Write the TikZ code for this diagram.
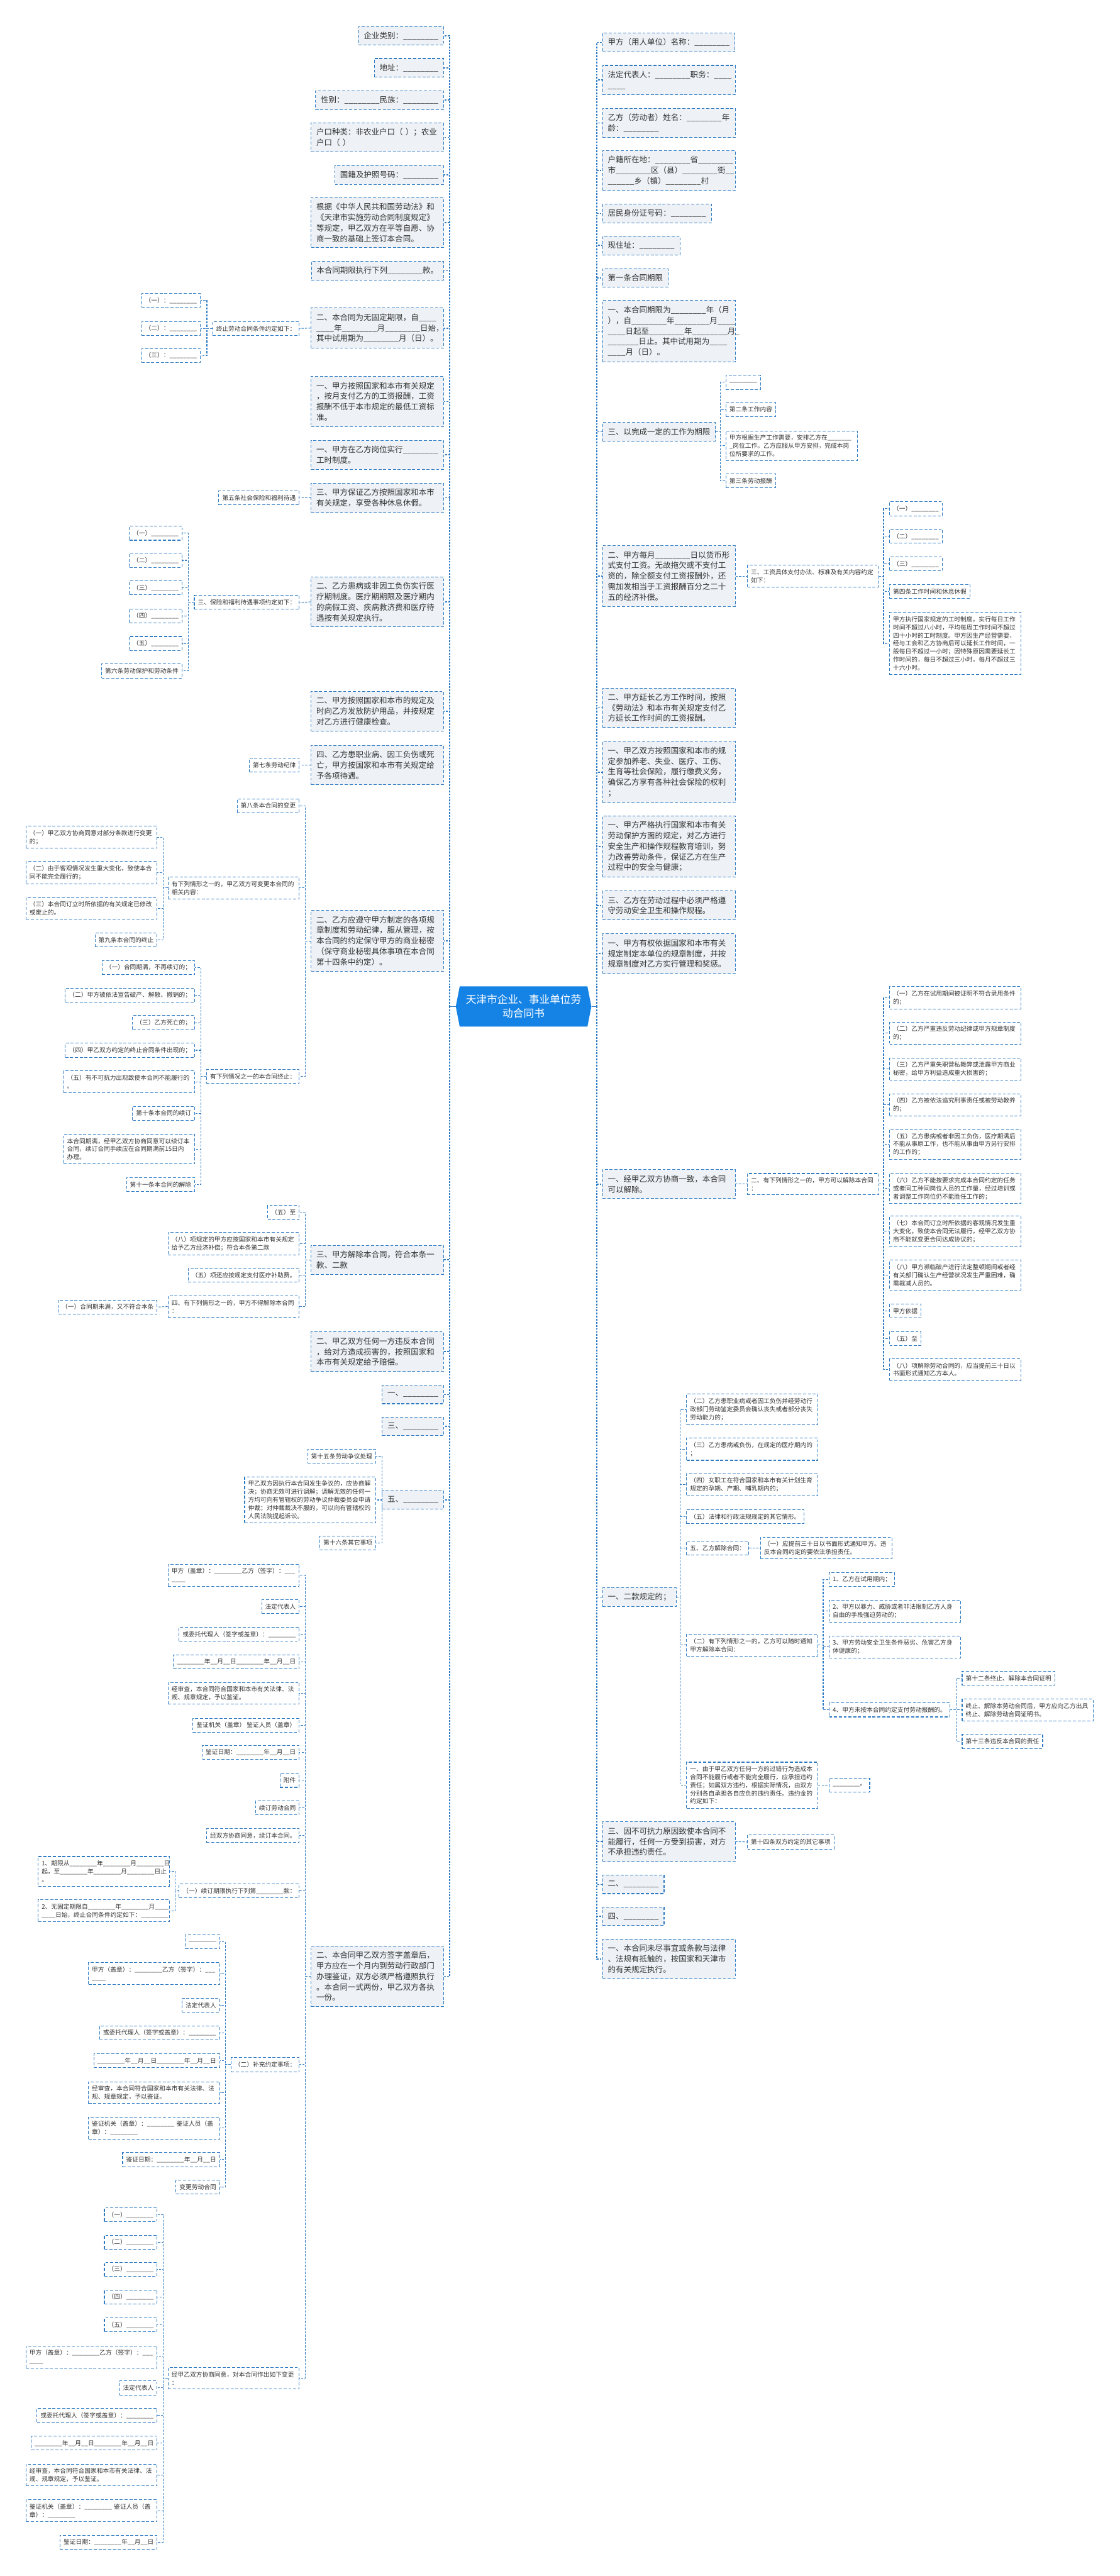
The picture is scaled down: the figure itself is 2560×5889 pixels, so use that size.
\documentclass[tikz,border=0pt]{standalone}
\usepackage{fontspec}
\setmainfont{Noto Sans CJK SC}
\definecolor{lineblue}{HTML}{2E7BC4}
\definecolor{boxfill}{HTML}{EEF2F6}
\definecolor{rootblue}{HTML}{1583E6}
\definecolor{textgray}{HTML}{333333}

\begin{document}
\catcode`\_=12
\begin{tikzpicture}[x=1pt,y=-1pt,
box/.style={draw=lineblue,line width=1.5pt,dash pattern=on 7pt off 4pt,text=textgray,align=left},
mainbox/.style={box,fill=boxfill,font=\fontsize{18pt}{24.2pt}\selectfont,inner xsep=12pt,inner ysep=12.5pt,minimum height=42pt},
subbox/.style={box,fill=white,font=\fontsize{14pt}{18.5pt}\selectfont,inner xsep=8pt,inner ysep=9pt,minimum height=32pt},
lmain/.style={mainbox,anchor=east},
rmain/.style={mainbox,anchor=west},
lmainw/.style={lmain,text width=279pt},
rmainw/.style={rmain,text width=279pt},
lsub/.style={subbox,anchor=east},
rsub/.style={subbox,anchor=west},
lsubw/.style={lsub,text width=284pt},
rsubw/.style={rsub,text width=284pt},
conn/.style={draw=lineblue,line width=1.5pt,dash pattern=on 5pt off 3pt},
spine/.style={draw=lineblue,line width=2.5pt,dash pattern=on 4pt off 3pt},
rootlink/.style={draw=lineblue,line width=2.5pt}
]
\fill[white] (0,0) rectangle (2560,5889);
\useasboundingbox (0,0) rectangle (2560,5889);

% root
\fill[rootblue] (1051,2255) -- (1343,2255) -- (1352,2301) -- (1343,2347) -- (1051,2347) -- (1042,2301) -- cycle;
\node[text=white,font=\fontsize{24pt}{32pt}\selectfont,align=center,minimum width=310pt,minimum height=92pt,inner sep=0pt] (root) at (1197,2301) {天津市企业、事业单位劳\\动合同书};
\coordinate (lsp) at (1028,2301);
\coordinate (rsp) at (1364,2301);
\draw[rootlink] (root.west) -- (lsp);
\draw[rootlink] (root.east) -- (rsp);

% left main nodes
\node[lmain] (l1) at (1015,82) {企业类别：________};
\node[lmain] (l2) at (1015,155) {地址：________};
\node[lmain] (l3) at (1015,229) {性别：________民族：________};
\node[lmainw] (l4) at (1015,314) {户口种类：非农业户口（ ）；农业\\户口（ ）};
\node[lmain] (l5) at (1015,400) {国籍及护照号码：________};
\node[lmainw] (l6) at (1015,509) {根据《中华人民共和国劳动法》和\\《天津市实施劳动合同制度规定》\\等规定，甲乙双方在平等自愿、协\\商一致的基础上签订本合同。};
\node[lmain] (l7) at (1015,619) {本合同期限执行下列________款。};
\node[lmainw] (l8) at (1015,750) {二、本合同为无固定期限，自____\\____年________月________日始，\\其中试用期为________月（日）。};
\node[lmainw] (l9) at (1015,918) {一、甲方按照国家和本市有关规定\\，按月支付乙方的工资报酬，工资\\报酬不低于本市规定的最低工资标\\准。};
\node[lmainw] (l10) at (1015,1040) {一、甲方在乙方岗位实行________\\工时制度。};
\node[lmainw] (l11) at (1015,1138) {三、甲方保证乙方按照国家和本市\\有关规定，享受各种休息休假。};
\node[lmainw] (l12) at (1015,1376) {二、乙方患病或非因工负伤实行医\\疗期制度。医疗期期限及医疗期内\\的病假工资、疾病救济费和医疗待\\遇按有关规定执行。};
\node[lmainw] (l13) at (1015,1626) {二、甲方按照国家和本市的规定及\\时向乙方发放防护用品，并按规定\\对乙方进行健康检查。};
\node[lmainw] (l14) at (1015,1749) {四、乙方患职业病、因工负伤或死\\亡，甲方按国家和本市有关规定给\\予各项待遇。};
\node[lmainw] (l15) at (1015,2151) {二、乙方应遵守甲方制定的各项规\\章制度和劳动纪律，服从管理，按\\本合同的约定保守甲方的商业秘密\\（保守商业秘密具体事项在本合同\\第十四条中约定）。};
\node[lmainw] (l16) at (1015,2880) {三、甲方解除本合同，符合本条一\\款、二款};
\node[lmainw] (l17) at (1015,3090) {二、甲乙双方任何一方违反本合同\\，给对方造成损害的，按照国家和\\本市有关规定给予赔偿。};
\node[lmain] (l18) at (1015,3188) {一、________};
\node[lmain] (l19) at (1015,3261) {三、________};
\node[lmain] (l20) at (1015,3429) {五、________};
\node[lmainw] (l21) at (1015,4518) {二、本合同甲乙双方签字盖章后，\\甲方应在一个月内到劳动行政部门\\办理鉴证，双方必须严格遵照执行\\。本合同一式两份，甲乙双方各执\\一份。};

\draw[spine] (lsp) |- (l1.east);
\draw[spine] (lsp) |- (l2.east);
\draw[spine] (lsp) |- (l3.east);
\draw[spine] (lsp) |- (l4.east);
\draw[spine] (lsp) |- (l5.east);
\draw[spine] (lsp) |- (l6.east);
\draw[spine] (lsp) |- (l7.east);
\draw[spine] (lsp) |- (l8.east);
\draw[spine] (lsp) |- (l9.east);
\draw[spine] (lsp) |- (l10.east);
\draw[spine] (lsp) |- (l11.east);
\draw[spine] (lsp) |- (l12.east);
\draw[spine] (lsp) |- (l13.east);
\draw[spine] (lsp) |- (l14.east);
\draw[spine] (lsp) |- (l15.east);
\draw[spine] (lsp) |- (l16.east);
\draw[spine] (lsp) |- (l17.east);
\draw[spine] (lsp) |- (l18.east);
\draw[spine] (lsp) |- (l19.east);
\draw[spine] (lsp) |- (l20.east);
\draw[spine] (lsp) |- (l21.east);

% left branches
\node[lsub] (l8a) at (685,751) {终止劳动合同条件约定如下：};
\node[lsub] (l8a1) at (459,687) {（一）：________};
\node[lsub] (l8a2) at (459,751) {（二）：________};
\node[lsub] (l8a3) at (459,813) {（三）：________};
\coordinate (e8) at (473,751);
\draw[conn] (l8.west) -- (l8a.east);
\draw[conn] (l8a.west) -- (l8a.west -| e8) |- (l8a1.east);
\draw[conn] (l8a.west) -- (l8a.west -| e8) |- (l8a2.east);
\draw[conn] (l8a.west) -- (l8a.west -| e8) |- (l8a3.east);

\node[lsub] (l11a) at (685,1138) {第五条社会保险和福利待遇};
\draw[conn] (l11.west) -- (l11a.east);

\node[lsub] (l12a) at (685,1377) {三、保险和福利待遇事项约定如下：};
\node[lsub] (l12a1) at (417,1219) {（一）________};
\node[lsub] (l12a2) at (417,1281) {（二）________};
\node[lsub] (l12a3) at (417,1344) {（三）________};
\node[lsub] (l12a4) at (417,1408) {（四）________};
\node[lsub] (l12a5) at (417,1471) {（五）________};
\node[lsub] (l12a6) at (417,1534) {第六条劳动保护和劳动条件};
\coordinate (e12) at (430,1377);
\draw[conn] (l12.west) -- (l12a.east);
\draw[conn] (l12a.west) -- (l12a.west -| e12) |- (l12a1.east);
\draw[conn] (l12a.west) -- (l12a.west -| e12) |- (l12a2.east);
\draw[conn] (l12a.west) -- (l12a.west -| e12) |- (l12a3.east);
\draw[conn] (l12a.west) -- (l12a.west -| e12) |- (l12a4.east);
\draw[conn] (l12a.west) -- (l12a.west -| e12) |- (l12a5.east);
\draw[conn] (l12a.west) -- (l12a.west -| e12) |- (l12a6.east);

\node[lsub] (l14a) at (685,1749) {第七条劳动纪律};
\draw[conn] (l14.west) -- (l14a.east);

\node[lsub] (l15a) at (685,1842) {第八条本合同的变更};
\node[lsubw] (l15b) at (685,2030) {有下列情形之一的，甲乙双方可变更本合同的\\相关内容：};
\node[lsub] (l15c) at (685,2461) {有下列情况之一的本合同终止：};
\coordinate (e15) at (698,2151);
\draw[conn] (l15.west) -- (l15.west -| e15) |- (l15a.east);
\draw[conn] (l15.west) -- (l15.west -| e15) |- (l15b.east);
\draw[conn] (l15.west) -- (l15.west -| e15) |- (l15c.east);

\node[lsubw] (l15b1) at (360,1914) {（一）甲乙双方协商同意对部分条款进行变更\\的；};
\node[lsubw] (l15b2) at (360,1995) {（二）由于客观情况发生重大变化，致使本合\\同不能完全履行的；};
\node[lsubw] (l15b3) at (360,2077) {（三）本合同订立时所依据的有关规定已修改\\或废止的。};
\node[lsub] (l15b4) at (360,2149) {第九条本合同的终止};
\coordinate (e15b) at (373,2030);
\draw[conn] (l15b.west) -- (l15b.west -| e15b) |- (l15b1.east);
\draw[conn] (l15b.west) -- (l15b.west -| e15b) |- (l15b2.east);
\draw[conn] (l15b.west) -- (l15b.west -| e15b) |- (l15b3.east);
\draw[conn] (l15b.west) -- (l15b.west -| e15b) |- (l15b4.east);

\node[lsub] (l15c1) at (446,2212) {（一）合同期满，不再续订的；};
\node[lsub] (l15c2) at (446,2275) {（二）甲方被依法宣告破产、解散、撤销的；};
\node[lsub] (l15c3) at (446,2338) {（三）乙方死亡的；};
\node[lsub] (l15c4) at (446,2401) {（四）甲乙双方约定的终止合同条件出现的；};
\node[lsubw] (l15c5) at (446,2473) {（五）有不可抗力出现致使本合同不能履行的\\。};
\node[lsub] (l15c6) at (446,2545) {第十条本合同的续订};
\node[lsubw] (l15c7) at (446,2627) {本合同期满，经甲乙双方协商同意可以续订本\\合同，续订合同手续应在合同期满前15日内\\办理。};
\node[lsub] (l15c8) at (446,2708) {第十一条本合同的解除};
\coordinate (e15c) at (459,2461);
\draw[conn] (l15c.west) -- (l15c.west -| e15c) |- (l15c1.east);
\draw[conn] (l15c.west) -- (l15c.west -| e15c) |- (l15c2.east);
\draw[conn] (l15c.west) -- (l15c.west -| e15c) |- (l15c3.east);
\draw[conn] (l15c.west) -- (l15c.west -| e15c) |- (l15c4.east);
\draw[conn] (l15c.west) -- (l15c.west -| e15c) |- (l15c5.east);
\draw[conn] (l15c.west) -- (l15c.west -| e15c) |- (l15c6.east);
\draw[conn] (l15c.west) -- (l15c.west -| e15c) |- (l15c7.east);
\draw[conn] (l15c.west) -- (l15c.west -| e15c) |- (l15c8.east);

\node[lsub] (l16a) at (685,2772) {（五）至};
\node[lsubw] (l16b) at (685,2843) {（八）项规定的甲方应按国家和本市有关规定\\给予乙方经济补偿；符合本条第二款};
\node[lsub] (l16c) at (685,2915) {（五）项还应按规定支付医疗补助费。};
\node[lsubw] (l16d) at (685,2987) {四、有下列情形之一的，甲方不得解除本合同\\：};
\node[lsub] (l16d1) at (360,2988) {（一）合同期未满，又不符合本条};
\coordinate (e16) at (698,2880);
\draw[conn] (l16.west) -- (l16.west -| e16) |- (l16a.east);
\draw[conn] (l16.west) -- (l16.west -| e16) |- (l16b.east);
\draw[conn] (l16.west) -- (l16.west -| e16) |- (l16c.east);
\draw[conn] (l16.west) -- (l16.west -| e16) |- (l16d.east);
\draw[conn] (l16d.west) -- (l16d1.east);

\node[lsub] (l20a) at (860,3329) {第十五条劳动争议处理};
\node[lsubw] (l20b) at (860,3429) {甲乙双方因执行本合同发生争议的，应协商解\\决；协商无效可进行调解；调解无效的任何一\\方均可向有管辖权的劳动争议仲裁委员会申请\\仲裁；对仲裁裁决不服的，可以向有管辖权的\\人民法院提起诉讼。};
\node[lsub] (l20c) at (860,3527) {第十六条其它事项};
\coordinate (e20) at (874,3429);
\draw[conn] (l20.west) -- (l20.west -| e20) |- (l20a.east);
\draw[conn] (l20.west) -- (l20.west -| e20) |- (l20b.east);
\draw[conn] (l20.west) -- (l20.west -| e20) |- (l20c.east);

% signatures and annexes under l21
\node[lsubw] (l21a) at (685,3601) {甲方（盖章）：________乙方（签字）：___\\____};
\node[lsub] (l21b) at (685,3673) {法定代表人};
\node[lsub] (l21c) at (685,3736) {或委托代理人（签字或盖章）：________};
\node[lsub] (l21d) at (685,3799) {________年__月__日________年__月__日};
\node[lsubw] (l21e) at (685,3871) {经审查，本合同符合国家和本市有关法律、法\\规、规章规定，予以鉴证。};
\node[lsub] (l21f) at (685,3944) {鉴证机关（盖章） 鉴证人员（盖章）};
\node[lsub] (l21g) at (685,4006) {鉴证日期：________年__月__日};
\node[lsub] (l21h) at (685,4070) {附件};
\node[lsub] (l21i) at (685,4133) {续订劳动合同};
\node[lsub] (l21j) at (685,4196) {经双方协商同意，续订本合同。};
\node[lsub] (l21k) at (685,4323) {（一）续订期限执行下列第________款：};
\node[lsub] (l21l) at (685,4720) {（二）补充约定事项：};
\node[lsubw] (l21m) at (685,5437) {经甲乙双方协商同意，对本合同作出如下变更\\：};
\coordinate (e21) at (698,4518);
\draw[conn] (l21.west) -- (l21.west -| e21) |- (l21a.east);
\draw[conn] (l21.west) -- (l21.west -| e21) |- (l21b.east);
\draw[conn] (l21.west) -- (l21.west -| e21) |- (l21c.east);
\draw[conn] (l21.west) -- (l21.west -| e21) |- (l21d.east);
\draw[conn] (l21.west) -- (l21.west -| e21) |- (l21e.east);
\draw[conn] (l21.west) -- (l21.west -| e21) |- (l21f.east);
\draw[conn] (l21.west) -- (l21.west -| e21) |- (l21g.east);
\draw[conn] (l21.west) -- (l21.west -| e21) |- (l21h.east);
\draw[conn] (l21.west) -- (l21.west -| e21) |- (l21i.east);
\draw[conn] (l21.west) -- (l21.west -| e21) |- (l21j.east);
\draw[conn] (l21.west) -- (l21.west -| e21) |- (l21k.east);
\draw[conn] (l21.west) -- (l21.west -| e21) |- (l21l.east);
\draw[conn] (l21.west) -- (l21.west -| e21) |- (l21m.east);

\node[lsubw] (l21k1) at (388,4278) {1、期限从________年________月________日\\起，至________年________月________日止\\。};
\node[lsubw] (l21k2) at (388,4368) {2、无固定期限自________年________月____\\____日始，终止合同条件约定如下：________};
\coordinate (e21k) at (401,4323);
\draw[conn] (l21k.west) -- (l21k.west -| e21k) |- (l21k1.east);
\draw[conn] (l21k.west) -- (l21k.west -| e21k) |- (l21k2.east);

\node[lsub] (l21l1) at (503,4439) {________};
\node[lsubw] (l21l2) at (503,4512) {甲方（盖章）：________乙方（签字）：___\\____};
\node[lsub] (l21l3) at (503,4584) {法定代表人};
\node[lsub] (l21l4) at (503,4647) {或委托代理人（签字或盖章）：________};
\node[lsub] (l21l5) at (503,4711) {________年__月__日________年__月__日};
\node[lsubw] (l21l6) at (503,4784) {经审查，本合同符合国家和本市有关法律、法\\规、规章规定，予以鉴证。};
\node[lsubw] (l21l7) at (503,4865) {鉴证机关（盖章）：________ 鉴证人员（盖\\章）：________};
\node[lsub] (l21l8) at (503,4937) {鉴证日期：________年__月__日};
\node[lsub] (l21l9) at (503,5000) {变更劳动合同};
\coordinate (e21l) at (515,4720);
\draw[conn] (l21l.west) -- (l21l.west -| e21l) |- (l21l1.east);
\draw[conn] (l21l.west) -- (l21l.west -| e21l) |- (l21l2.east);
\draw[conn] (l21l.west) -- (l21l.west -| e21l) |- (l21l3.east);
\draw[conn] (l21l.west) -- (l21l.west -| e21l) |- (l21l4.east);
\draw[conn] (l21l.west) -- (l21l.west -| e21l) |- (l21l5.east);
\draw[conn] (l21l.west) -- (l21l.west -| e21l) |- (l21l6.east);
\draw[conn] (l21l.west) -- (l21l.west -| e21l) |- (l21l7.east);
\draw[conn] (l21l.west) -- (l21l.west -| e21l) |- (l21l8.east);
\draw[conn] (l21l.west) -- (l21l.west -| e21l) |- (l21l9.east);

\node[lsub] (l21m1) at (360,5063) {（一）________};
\node[lsub] (l21m2) at (360,5126) {（二）________};
\node[lsub] (l21m3) at (360,5188) {（三）________};
\node[lsub] (l21m4) at (360,5251) {（四）________};
\node[lsub] (l21m5) at (360,5315) {（五）________};
\node[lsubw] (l21m6) at (360,5388) {甲方（盖章）：________乙方（签字）：___\\____};
\node[lsub] (l21m7) at (360,5459) {法定代表人};
\node[lsub] (l21m8) at (360,5522) {或委托代理人（签字或盖章）：________};
\node[lsub] (l21m9) at (360,5585) {________年__月__日________年__月__日};
\node[lsubw] (l21m10) at (360,5658) {经审查，本合同符合国家和本市有关法律、法\\规、规章规定，予以鉴证。};
\node[lsubw] (l21m11) at (360,5740) {鉴证机关（盖章）：________ 鉴证人员（盖\\章）：________};
\node[lsub] (l21m12) at (360,5812) {鉴证日期：________年__月__日};
\coordinate (e21m) at (373,5437);
\draw[conn] (l21m.west) -- (l21m.west -| e21m) |- (l21m1.east);
\draw[conn] (l21m.west) -- (l21m.west -| e21m) |- (l21m2.east);
\draw[conn] (l21m.west) -- (l21m.west -| e21m) |- (l21m3.east);
\draw[conn] (l21m.west) -- (l21m.west -| e21m) |- (l21m4.east);
\draw[conn] (l21m.west) -- (l21m.west -| e21m) |- (l21m5.east);
\draw[conn] (l21m.west) -- (l21m.west -| e21m) |- (l21m6.east);
\draw[conn] (l21m.west) -- (l21m.west -| e21m) |- (l21m7.east);
\draw[conn] (l21m.west) -- (l21m.west -| e21m) |- (l21m8.east);
\draw[conn] (l21m.west) -- (l21m.west -| e21m) |- (l21m9.east);
\draw[conn] (l21m.west) -- (l21m.west -| e21m) |- (l21m10.east);
\draw[conn] (l21m.west) -- (l21m.west -| e21m) |- (l21m11.east);
\draw[conn] (l21m.west) -- (l21m.west -| e21m) |- (l21m12.east);

% right main nodes
\node[rmain] (r1) at (1377,97) {甲方（用人单位）名称：________};
\node[rmainw] (r2) at (1377,183) {法定代表人：________职务：____\\____};
\node[rmainw] (r3) at (1377,281) {乙方（劳动者）姓名：________年\\龄：________};
\node[rmainw] (r4) at (1377,390) {户籍所在地：________省________\\市________区（县）________街__\\______乡（镇）________村};
\node[rmain] (r5) at (1377,488) {居民身份证号码：________};
\node[rmain] (r6) at (1377,561) {现住址：________};
\node[rmain] (r7) at (1377,635) {第一条合同期限};
\node[rmainw] (r8) at (1377,757) {一、本合同期限为________年（月\\），自________年________月____\\____日起至________年________月_\\_______日止。其中试用期为____\\____月（日）。};
\node[rmain] (r9) at (1377,987) {三、以完成一定的工作为期限};
\node[rmainw] (r10) at (1377,1317) {二、甲方每月________日以货币形\\式支付工资。无故拖欠或不支付工\\资的，除全额支付工资报酬外，还\\需加发相当于工资报酬百分之二十\\五的经济补偿。};
\node[rmainw] (r11) at (1377,1618) {二、甲方延长乙方工作时间，按照\\《劳动法》和本市有关规定支付乙\\方延长工作时间的工资报酬。};
\node[rmainw] (r12) at (1377,1765) {一、甲乙双方按照国家和本市的规\\定参加养老、失业、医疗、工伤、\\生育等社会保险，履行缴费义务，\\确保乙方享有各种社会保险的权利\\；};
\node[rmainw] (r13) at (1377,1935) {一、甲方严格执行国家和本市有关\\劳动保护方面的规定，对乙方进行\\安全生产和操作规程教育培训，努\\力改善劳动条件，保证乙方在生产\\过程中的安全与健康；};
\node[rmainw] (r14) at (1377,2070) {三、乙方在劳动过程中必须严格遵\\守劳动安全卫生和操作规程。};
\node[rmainw] (r15) at (1377,2180) {一、甲方有权依据国家和本市有关\\规定制定本单位的规章制度，并按\\规章制度对乙方实行管理和奖惩。};
\node[rmainw] (r16) at (1377,2707) {一、经甲乙双方协商一致，本合同\\可以解除。};
\node[rmain] (r17) at (1377,3651) {一、二款规定的；};
\node[rmainw] (r18) at (1377,4210) {三、因不可抗力原因致使本合同不\\能履行，任何一方受到损害，对方\\不承担违约责任。};
\node[rmain] (r19) at (1377,4308) {二、________};
\node[rmain] (r20) at (1377,4381) {四、________};
\node[rmainw] (r21) at (1377,4478) {一、本合同未尽事宜或条款与法律\\、法规有抵触的，按国家和天津市\\的有关规定执行。};

\draw[spine] (rsp) |- (r1.west);
\draw[spine] (rsp) |- (r2.west);
\draw[spine] (rsp) |- (r3.west);
\draw[spine] (rsp) |- (r4.west);
\draw[spine] (rsp) |- (r5.west);
\draw[spine] (rsp) |- (r6.west);
\draw[spine] (rsp) |- (r7.west);
\draw[spine] (rsp) |- (r8.west);
\draw[spine] (rsp) |- (r9.west);
\draw[spine] (rsp) |- (r10.west);
\draw[spine] (rsp) |- (r11.west);
\draw[spine] (rsp) |- (r12.west);
\draw[spine] (rsp) |- (r13.west);
\draw[spine] (rsp) |- (r14.west);
\draw[spine] (rsp) |- (r15.west);
\draw[spine] (rsp) |- (r16.west);
\draw[spine] (rsp) |- (r17.west);
\draw[spine] (rsp) |- (r18.west);
\draw[spine] (rsp) |- (r19.west);
\draw[spine] (rsp) |- (r20.west);
\draw[spine] (rsp) |- (r21.west);

% right branches
\node[rsub] (r9a) at (1659,874) {________};
\node[rsub] (r9b) at (1659,936) {第二条工作内容};
\node[rsubw] (r9c) at (1659,1019) {甲方根据生产工作需要，安排乙方在_______\\_岗位工作。乙方应服从甲方安排，完成本岗\\位所要求的工作。};
\node[rsub] (r9d) at (1659,1099) {第三条劳动报酬};
\coordinate (e9) at (1647,987);
\draw[conn] (r9.east) -- (r9.east -| e9) |- (r9a.west);
\draw[conn] (r9.east) -- (r9.east -| e9) |- (r9b.west);
\draw[conn] (r9.east) -- (r9.east -| e9) |- (r9c.west);
\draw[conn] (r9.east) -- (r9.east -| e9) |- (r9d.west);

\node[rsubw] (r10a) at (1708,1317) {三、工资具体支付办法、标准及有关内容约定\\如下：};
\draw[conn] (r10.east) -- (r10a.west);
\node[rsub] (r10a1) at (2033,1163) {（一）________};
\node[rsub] (r10a2) at (2033,1226) {（二）________};
\node[rsub] (r10a3) at (2033,1289) {（三）________};
\node[rsub] (r10a4) at (2033,1352) {第四条工作时间和休息休假};
\node[rsubw] (r10a5) at (2033,1471) {甲方执行国家规定的工时制度，实行每日工作\\时间不超过八小时，平均每周工作时间不超过\\四十小时的工时制度。甲方因生产经营需要，\\经与工会和乙方协商后可以延长工作时间，一\\般每日不超过一小时；因特殊原因需要延长工\\作时间的，每日不超过三小时，每月不超过三\\十六小时。};
\coordinate (e10) at (2020,1317);
\draw[conn] (r10a.east) -- (r10a.east -| e10) |- (r10a1.west);
\draw[conn] (r10a.east) -- (r10a.east -| e10) |- (r10a2.west);
\draw[conn] (r10a.east) -- (r10a.east -| e10) |- (r10a3.west);
\draw[conn] (r10a.east) -- (r10a.east -| e10) |- (r10a4.west);
\draw[conn] (r10a.east) -- (r10a.east -| e10) |- (r10a5.west);

\node[rsubw] (r16a) at (1708,2707) {二、有下列情形之一的，甲方可以解除本合同\\：};
\draw[conn] (r16.east) -- (r16a.west);
\node[rsubw] (r16a1) at (2033,2281) {（一）乙方在试用期间被证明不符合录用条件\\的；};
\node[rsubw] (r16a2) at (2033,2362) {（二）乙方严重违反劳动纪律或甲方规章制度\\的；};
\node[rsubw] (r16a3) at (2033,2444) {（三）乙方严重失职营私舞弊或泄露甲方商业\\秘密，给甲方利益造成重大损害的；};
\node[rsubw] (r16a4) at (2033,2526) {（四）乙方被依法追究刑事责任或被劳动教养\\的；};
\node[rsubw] (r16a5) at (2033,2616) {（五）乙方患病或者非因工负伤，医疗期满后\\不能从事原工作，也不能从事由甲方另行安排\\的工作的；};
\node[rsubw] (r16a6) at (2033,2717) {（六）乙方不能按要求完成本合同约定的任务\\或者同工种同岗位人员的工作量，经过培训或\\者调整工作岗位仍不能胜任工作的；};
\node[rsubw] (r16a7) at (2033,2815) {（七）本合同订立时所依据的客观情况发生重\\大变化，致使本合同无法履行，经甲乙双方协\\商不能就变更合同达成协议的；};
\node[rsubw] (r16a8) at (2033,2915) {（八）甲方濒临破产进行法定整顿期间或者经\\有关部门确认生产经营状况发生严重困难，确\\需裁减人员的。};
\node[rsub] (r16a9) at (2033,2997) {甲方依据};
\node[rsub] (r16a10) at (2033,3060) {（五）至};
\node[rsubw] (r16a11) at (2033,3131) {（八）项解除劳动合同的，应当提前三十日以\\书面形式通知乙方本人。};
\coordinate (e16a) at (2020,2707);
\draw[conn] (r16a.east) -- (r16a.east -| e16a) |- (r16a1.west);
\draw[conn] (r16a.east) -- (r16a.east -| e16a) |- (r16a2.west);
\draw[conn] (r16a.east) -- (r16a.east -| e16a) |- (r16a3.west);
\draw[conn] (r16a.east) -- (r16a.east -| e16a) |- (r16a4.west);
\draw[conn] (r16a.east) -- (r16a.east -| e16a) |- (r16a5.west);
\draw[conn] (r16a.east) -- (r16a.east -| e16a) |- (r16a6.west);
\draw[conn] (r16a.east) -- (r16a.east -| e16a) |- (r16a7.west);
\draw[conn] (r16a.east) -- (r16a.east -| e16a) |- (r16a8.west);
\draw[conn] (r16a.east) -- (r16a.east -| e16a) |- (r16a9.west);
\draw[conn] (r16a.east) -- (r16a.east -| e16a) |- (r16a10.west);
\draw[conn] (r16a.east) -- (r16a.east -| e16a) |- (r16a11.west);

\node[rsubw] (r17a) at (1569,3222) {（二）乙方患职业病或者因工负伤并经劳动行\\政部门劳动鉴定委员会确认丧失或者部分丧失\\劳动能力的；};
\node[rsubw] (r17b) at (1569,3313) {（三）乙方患病或负伤，在规定的医疗期内的\\；};
\node[rsubw] (r17c) at (1569,3394) {（四）女职工在符合国家和本市有关计划生育\\规定的孕期、产期、哺乳期内的；};
\node[rsub] (r17d) at (1569,3467) {（五）法律和行政法规规定的其它情形。};
\node[rsub] (r17e) at (1569,3539) {五、乙方解除合同：};
\node[rsubw] (r17f) at (1569,3761) {（二）有下列情形之一的，乙方可以随时通知\\甲方解除本合同：};
\node[rsubw] (r17g) at (1569,4081) {一、由于甲乙双方任何一方的过错行为造成本\\合同不能履行或者不能完全履行，应承担违约\\责任；如属双方违约，根据实际情况，由双方\\分别各自承担各自应负的违约责任。违约金的\\约定如下：};
\coordinate (e17) at (1555,3651);
\draw[conn] (r17.east) -- (r17.east -| e17) |- (r17a.west);
\draw[conn] (r17.east) -- (r17.east -| e17) |- (r17b.west);
\draw[conn] (r17.east) -- (r17.east -| e17) |- (r17c.west);
\draw[conn] (r17.east) -- (r17.east -| e17) |- (r17d.west);
\draw[conn] (r17.east) -- (r17.east -| e17) |- (r17e.west);
\draw[conn] (r17.east) -- (r17.east -| e17) |- (r17f.west);
\draw[conn] (r17.east) -- (r17.east -| e17) |- (r17g.west);

\node[rsubw] (r17e1) at (1738,3539) {（一）应提前三十日以书面形式通知甲方。违\\反本合同约定的要依法承担责任。};
\draw[conn] (r17e.east) -- (r17e1.west);

\node[rsub] (r17f1) at (1895,3611) {1、乙方在试用期内；};
\node[rsubw] (r17f2) at (1895,3683) {2、甲方以暴力、威胁或者非法限制乙方人身\\自由的手段强迫劳动的；};
\node[rsubw] (r17f3) at (1895,3765) {3、甲方劳动安全卫生条件恶劣、危害乙方身\\体健康的；};
\node[rsub] (r17f4) at (1895,3909) {4、甲方未按本合同约定支付劳动报酬的。};
\coordinate (e17f) at (1882,3761);
\draw[conn] (r17f.east) -- (r17f.east -| e17f) |- (r17f1.west);
\draw[conn] (r17f.east) -- (r17f.east -| e17f) |- (r17f2.west);
\draw[conn] (r17f.east) -- (r17f.east -| e17f) |- (r17f3.west);
\draw[conn] (r17f.east) -- (r17f.east -| e17f) |- (r17f4.west);

\node[rsub] (r17f41) at (2199,3837) {第十二条终止、解除本合同证明};
\node[rsubw] (r17f42) at (2199,3909) {终止、解除本劳动合同后，甲方应向乙方出具\\终止、解除劳动合同证明书。};
\node[rsub] (r17f43) at (2199,3981) {第十三条违反本合同的责任};
\coordinate (e17f4) at (2186,3909);
\draw[conn] (r17f4.east) -- (r17f4.east -| e17f4) |- (r17f41.west);
\draw[conn] (r17f4.east) -- (r17f4.east -| e17f4) |- (r17f42.west);
\draw[conn] (r17f4.east) -- (r17f4.east -| e17f4) |- (r17f43.west);

\node[rsub] (r17g1) at (1895,4081) {________。};
\draw[conn] (r17g.east) -- (r17g1.west);

\node[rsub] (r18a) at (1708,4211) {第十四条双方约定的其它事项};
\draw[conn] (r18.east) -- (r18a.west);
\end{tikzpicture}
\end{document}
